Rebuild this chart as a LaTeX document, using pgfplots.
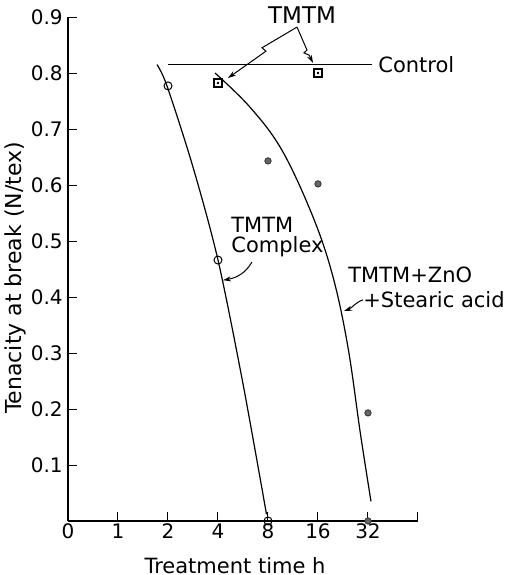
\documentclass[border=0pt]{standalone}
\usepackage{fontspec}
\setmainfont{DejaVu Sans}
\usepackage{pgfplots}
\pgfplotsset{compat=1.18}
\usetikzlibrary{arrows.meta}
\begin{document}
\begin{tikzpicture}
\path[use as bounding box] (-34pt,-27pt) rectangle (224pt,260.5pt);
\begin{axis}[
  at={(0,0)}, anchor=south west,
  scale only axis, width=175pt, height=252pt,
  xmin=0, xmax=7, ymin=0, ymax=0.9,
  axis lines=left,
  axis line style={-, line width=0.6pt},
  tick align=inside, major tick length=4.5pt,
  tick style={line width=0.5pt, black},
  xtick={0,1,2,3,4,5,6,7},
  xticklabels={0,1,2,4,8,16,32,{}},
  ytick={0.1,0.2,0.3,0.4,0.5,0.6,0.7,0.8,0.9},
  yticklabels={0.1,0.2,0.3,0.4,0.5,0.6,0.7,0.8,0.9},
  /pgf/number format/assume math mode=true,
  xticklabel style={anchor=base, yshift=-8.5pt, font=\fontsize{10}{12}\selectfont},
  yticklabel style={anchor=east, inner sep=0pt, xshift=-2.5pt, font=\fontsize{10}{12}\selectfont},
  clip=false,
]
% control level
\addplot[black, line width=0.5pt] coordinates {(2,0.816) (6.08,0.816)};

% TMTM complex
\addplot[black, line width=0.6pt, smooth, tension=0.5] coordinates {
  (1.78,0.815) (1.98,0.777) (2.5,0.632) (3.0,0.466) (3.5,0.245) (3.97,0.012)};
\addplot[only marks, mark=o, mark size=2pt, mark options={fill=white, line width=0.5pt}]
  coordinates {(2,0.777) (3,0.466) (4,0)};

% TMTM + ZnO + stearic acid
\addplot[black, line width=0.6pt, smooth, tension=0.6] coordinates {
  (2.94,0.80) (3.64,0.739) (4.28,0.662) (4.9,0.543) (5.3,0.436)
  (5.6,0.31) (5.85,0.155) (6.06,0.035)};
\addplot[only marks, mark=*, mark size=1.6pt, mark options={fill=black!60, draw=black!80}]
  coordinates {(4,0.643) (5,0.602) (6,0.193) (6,0)};

% TMTM alone
\addplot[only marks, mark=square, mark size=2pt, mark options={line width=0.6pt}]
  coordinates {(3,0.782) (5,0.80)};
\addplot[only marks, mark=*, mark size=0.4pt] coordinates {(3,0.782) (5,0.80)};

% labels
\node[font=\fontsize{11.5}{12}\selectfont] at (axis cs:4.68,0.904) {TMTM};
\draw[line width=0.5pt, -{Stealth[length=4pt,width=2.5pt]}]
  (axis cs:4.58,0.882) -- (axis cs:3.88,0.845) -- (axis cs:3.96,0.839) -- (axis cs:3.2,0.791);
\draw[line width=0.5pt, -{Stealth[length=4pt,width=2.5pt]}]
  (axis cs:4.58,0.882) -- (axis cs:4.78,0.841) -- (axis cs:4.72,0.836) -- (axis cs:4.82,0.832) -- (axis cs:4.9,0.818);
\node[anchor=west, inner sep=0pt, font=\fontsize{10.5}{12}\selectfont] at (axis cs:6.2,0.814) {Control};

\node[anchor=west, inner sep=0pt, align=left, font=\fontsize{10.5}{10}\selectfont]
  at (axis cs:3.26,0.507) {TMTM\\Complex};
\draw[line width=0.5pt, -{Stealth[length=4pt,width=2.5pt]}]
  (axis cs:3.68,0.4625) to[out=240,in=10] (axis cs:3.1,0.43);

\node[anchor=west, inner sep=0pt, font=\fontsize{10.5}{12}\selectfont] at (axis cs:5.6,0.439) {TMTM+ZnO};
\node[anchor=west, inner sep=0pt, font=\fontsize{10.5}{12}\selectfont] at (axis cs:5.9,0.395) {+Stearic acid};
\draw[line width=0.5pt, -{Stealth[length=4pt,width=2.5pt]}]
  (axis cs:5.9,0.395) to[out=200,in=20] (axis cs:5.52,0.375);

\node[rotate=90, font=\fontsize{11}{12}\selectfont] at (axis cs:0,0.434) [yshift=26.5pt] {Tenacity at break (N/tex)};
\node[anchor=base, font=\fontsize{10.5}{12}\selectfont] at (axis cs:3.34,0) [yshift=-26pt] {Treatment time h};
\end{axis}
\end{tikzpicture}
\end{document}
